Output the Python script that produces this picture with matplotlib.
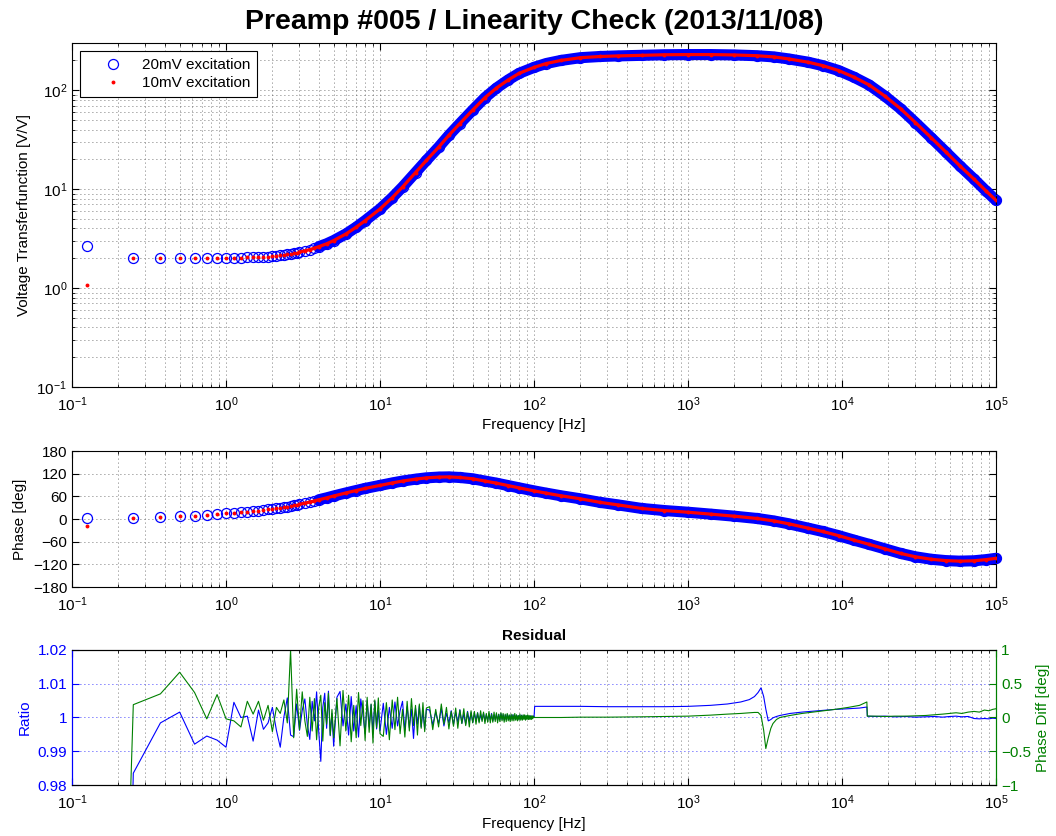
import numpy as np
import matplotlib.pyplot as plt
from matplotlib.ticker import LogLocator, FixedLocator, FuncFormatter, NullFormatter

plt.rcParams['font.family'] = ['Liberation Sans', 'DejaVu Sans']
plt.rcParams['font.size'] = 11
plt.rcParams['mathtext.default'] = 'regular'

# swept-sine transfer function
freq = [0.125, 0.25, 0.375, 0.5, 0.625, 0.75, 0.875, 1.0,
        1.125, 1.25, 1.375, 1.5, 1.625, 1.75, 1.875, 2.0,
        2.125, 2.25, 2.375, 2.5, 2.625, 2.75, 2.875, 3.0,
        3.25, 3.5, 3.75, 4.0, 4.5, 5.0, 6.0, 7.0, 8.0,
        10, 12, 14, 17, 20, 24, 28, 33, 40, 48, 57, 68, 80,
        100, 120, 150, 200, 270, 350, 500, 700, 1000, 1400, 2000, 2800,
        3600, 4500, 6000, 7500, 9500, 12000, 15000, 19000, 24000, 30000,
        38000, 47000, 58000, 72000, 86000, 100000]
mag_20mv = [2.67, 2.00, 2.00, 2.00, 2.00, 2.01, 2.01, 2.02,
            2.03, 2.03, 2.04, 2.05, 2.06, 2.07, 2.08, 2.10,
            2.12, 2.14, 2.16, 2.19, 2.21, 2.24, 2.27, 2.31,
            2.38, 2.45, 2.53, 2.62, 2.80, 3.02, 3.52, 4.12, 4.80,
            6.3, 8.2, 10.5, 14.7, 19.5, 26.5, 35.0, 46, 63, 84, 105, 127, 148,
            170, 186, 200, 213, 219, 222, 225, 228, 229, 229, 227, 223,
            217, 207, 192, 177, 158, 135, 113, 87, 65, 47,
            33, 23.9, 17.3, 12.6, 9.6, 7.7]
phase_20mv = [3.5, 4, 5.5, 7, 9, 11, 13, 15,
              16.5, 18, 19.5, 21, 22.5, 24, 25.5, 27,
              28.5, 30, 31.5, 33, 34.5, 36, 37.5, 39,
              42, 45, 48, 51, 56, 61, 69, 75.5, 81,
              89, 95.5, 100.5, 105.5, 109, 111, 111.5, 110, 106.5, 100.5, 95, 88.5, 82.5,
              74.5, 68.5, 61.5, 53.5, 44, 37.5, 28, 22.5, 18, 13, 7.5, 1.5,
              -5, -12.5, -24, -33, -44, -56, -67, -79, -91, -100,
              -106.5, -110, -111.5, -110.5, -107.5, -104]
# the 10 mV sweep sits on top of the 20 mV one except for the first bin
mag_10mv = [1.07] + mag_20mv[1:]
phase_10mv = [-18.6] + phase_20mv[1:]

# residual: ratio 10mV/20mV and phase difference
res_freq = [0.125, 0.25, 0.375, 0.5, 0.625, 0.75, 0.875, 1.0,
            1.125, 1.25, 1.375, 1.5, 1.625, 1.75, 1.875, 2.0,
            2.125, 2.25, 2.375, 2.5, 2.625, 2.75, 2.875, 3.0,
            3.125, 3.25, 3.375, 3.5, 3.625, 3.75, 3.875, 4.0,
            4.125, 4.25, 4.375, 4.5, 4.625, 4.75, 4.875, 5.0,
            5.25, 5.5, 5.75, 6.0, 6.25, 6.5, 6.75, 7.0, 7.25, 7.5,
            7.75, 8.0, 8.25, 8.5, 8.75, 9.0, 9.25, 9.5, 9.75, 10.0,
            10.5, 11.0, 11.5, 12.0, 12.5, 13.0, 13.5, 14.0, 14.5, 15.0,
            15.5, 16.0, 16.5, 17.0, 17.5, 18.0, 18.5, 19.0, 19.5, 20.0,
            21, 22, 23, 24, 25, 26, 27, 28, 29, 30,
            31, 32, 33, 34, 35, 36, 37, 38, 39, 40,
            41, 42, 43, 44, 45, 46, 47, 48, 49, 50,
            51, 52, 53, 54, 55, 56, 57, 58, 59, 60,
            61, 62, 63, 64, 65, 66, 67, 68, 69, 70,
            71, 72, 73, 74, 75, 76, 77, 78, 79, 80,
            81, 82, 83, 84, 85, 86, 87, 88, 89, 90,
            91, 92, 93, 94, 95, 96, 97, 98, 99, 100,
            101, 150, 200, 300, 500, 700, 1000, 1400, 1800, 2200,
            2500, 2700, 2850, 2980, 3100, 3200, 3320, 3450, 3560, 3750,
            3950, 4600, 5500, 7000, 9000, 11000, 13000, 14500, 14600, 16500,
            19000, 22000, 26000, 30000, 35000, 40000, 45000, 50000, 55000, 60000,
            66000, 72000, 78000, 84000, 90000, 95000, 100000]
res_ratio = [0.400, 0.9835, 0.9984, 1.0016, 0.9921, 0.9945, 0.9933, 0.9912,
             1.0045, 1.0000, 1.0004, 0.9930, 1.0022, 0.9965, 0.9984, 1.0030,
             0.9962, 0.9912, 1.0001, 1.0058, 0.9948, 0.9943, 1.0040, 0.9962,
             1.0021, 1.0055, 0.9978, 0.9935, 1.0048, 0.9990, 1.0076, 0.9958,
             0.9870, 1.0030, 1.0072, 0.9968, 1.0078, 0.9946, 1.0012, 0.9915,
             1.0060, 1.0077, 0.9975, 1.0040, 0.9948, 1.0062, 0.9960, 1.0035, 0.9942, 1.0055,
             1.0008, 0.9952, 1.0050, 0.9972, 1.0038, 0.9958, 1.0048, 0.9966, 1.0022, 0.9960,
             1.0042, 0.9950, 1.0030, 0.9968, 1.0046, 0.9975, 1.0020, 1.0048, 0.9962, 1.0032,
             0.9970, 1.0025, 0.9938, 1.0028, 0.9980, 1.0035, 0.9972, 1.0018, 0.9966, 1.0024,
             1.0022, 0.9978, 1.0016, 0.9982, 1.0026, 0.9975, 1.0012, 0.9984, 1.0020, 0.9979,
             1.0015, 0.9986, 1.0023, 0.9983, 1.0010, 0.9980, 1.0018, 0.9988, 1.0014, 0.9985,
             1.0012, 0.9990, 1.0014, 0.9988, 1.0009, 0.9992, 1.0013, 0.9989, 1.0008, 0.9991,
             1.0011, 0.9993, 1.0012, 0.9990, 1.0007, 0.9994, 1.0010, 0.9991, 1.0009, 0.9993,
             1.0011, 0.9995, 1.0008, 0.9992, 1.0007, 0.9994, 1.0009, 0.9995, 1.0006, 0.9993,
             1.0007, 0.9995, 1.0008, 0.9996, 1.0006, 0.9994, 1.0007, 0.9996, 1.0005, 0.9995,
             1.0006, 0.9997, 1.0007, 0.9996, 1.0005, 0.9997, 1.0006, 0.9996, 1.0004, 0.9997,
             1.0005, 0.9998, 1.0004, 0.9997, 1.0005, 0.9998, 1.0003, 0.9998, 1.0004, 1.0000,
             1.0033, 1.0033, 1.0033, 1.0032, 1.0032, 1.0032, 1.0033, 1.0036, 1.0040, 1.0046,
             1.0053, 1.0062, 1.0074, 1.0088, 1.0062, 1.0025, 0.9990, 0.9994, 0.9999, 1.0003,
             1.0006, 1.0012, 1.0016, 1.0020, 1.0024, 1.0026, 1.0028, 1.0031, 1.0004, 1.0003,
             1.0004, 1.0002, 1.0003, 1.0001, 1.0002, 1.0003, 1.0001, 1.0003, 1.0004, 1.0002,
             1.0003, 0.9997, 0.9996, 0.9997, 0.9996, 0.9998, 0.9997]
res_phase = [-22.0, 0.19, 0.35, 0.67, 0.37, -0.02, 0.34, -0.02,
             -0.05, -0.14, 0.24, 0.05, 0.24, -0.04, 0.18, -0.21,
             0.15, 0.06, 0.26, -0.08, 1.00, -0.30, 0.42, -0.18,
             0.38, -0.05, -0.28, 0.30, -0.20, 0.28, -0.33, 0.15,
             0.33, -0.35, 0.22, -0.10, 0.36, -0.26, 0.12, -0.30,
             0.28, -0.42, 0.40, -0.20, 0.33, -0.36, 0.18, -0.30, 0.37, -0.12,
             0.25, -0.34, 0.30, -0.22, 0.20, -0.38, 0.26, -0.15, 0.29, -0.24,
             -0.28, 0.22, -0.33, 0.26, -0.18, 0.30, -0.24, 0.12, -0.29, 0.24,
             -0.20, 0.28, -0.12, 0.18, -0.26, 0.20, -0.16, 0.22, -0.21, 0.14,
             0.16, -0.18, 0.12, -0.14, 0.20, -0.10, 0.15, -0.17, 0.09, -0.13,
             0.14, -0.16, 0.11, -0.09, 0.13, -0.12, 0.08, -0.14, 0.10, -0.08,
             0.09, -0.10, 0.07, -0.08, 0.10, -0.06, 0.08, -0.09, 0.06, -0.07,
             0.09, -0.08, 0.05, -0.07, 0.08, -0.06, 0.07, -0.08, 0.05, -0.06,
             0.07, -0.05, 0.06, -0.07, 0.05, -0.06, 0.06, -0.05, 0.04, -0.06,
             0.05, -0.05, 0.04, -0.05, 0.06, -0.04, 0.04, -0.05, 0.03, -0.04,
             0.05, -0.04, 0.03, -0.04, 0.04, -0.03, 0.04, -0.04, 0.03, -0.03,
             0.04, -0.03, 0.03, -0.03, 0.02, -0.03, 0.03, -0.02, 0.02, 0.00,
             0.00, 0.00, 0.005, 0.005, 0.01, 0.015, 0.02, 0.035, 0.05, 0.06,
             0.07, 0.075, 0.075, 0.03, -0.19, -0.46, -0.30, -0.16, -0.09, -0.03,
             0.00, 0.03, 0.06, 0.09, 0.12, 0.15, 0.18, 0.23, 0.02, 0.02,
             0.015, 0.02, 0.02, 0.025, 0.03, 0.04, 0.05, 0.06, 0.07, 0.06,
             0.08, 0.09, 0.08, 0.11, 0.10, 0.12, 0.13]

decades = [0.1, 1, 10, 100, 1000, 10000, 100000]

GREEN = (0, 0.5, 0)
GRID = dict(color='0.3', linestyle=(0, (1, 3.8)), linewidth=0.6)


def style_axis(ax, minor_y=False):
    ax.set_xscale('log')
    ax.set_xlim(0.1, 1e5)
    ax.xaxis.set_major_locator(FixedLocator(decades))
    ax.xaxis.set_minor_locator(LogLocator(base=10, subs=np.arange(2, 10), numticks=20))
    ax.xaxis.set_minor_formatter(NullFormatter())
    ax.tick_params(which='both', direction='in', top=True, right=True, labelsize=11)
    ax.tick_params(which='major', length=5)
    ax.tick_params(which='minor', length=2.5)
    ax.tick_params(axis='x', which='major', pad=6)
    ax.grid(True, which='major', **GRID)
    ax.grid(True, which='minor', axis='x', **GRID)
    if minor_y:
        ax.grid(True, which='minor', axis='y', **GRID)
    ax.set_axisbelow(True)


fig = plt.figure(figsize=(10.56, 8.36), dpi=100)
ax1 = fig.add_axes([0.0682, 0.5371, 0.875, 0.4115])
ax2 = fig.add_axes([0.0682, 0.2978, 0.875, 0.1627])
ax3 = fig.add_axes([0.0682, 0.0610, 0.875, 0.1615])

f = np.array(freq)
m20, m10 = np.array(mag_20mv), np.array(mag_10mv)
p20, p10 = np.array(phase_20mv), np.array(phase_10mv)
thick = f >= 4
thin = f >= 3

# magnitude
ax1.set_yscale('log')
style_axis(ax1, minor_y=True)
ax1.set_ylim(0.1, 300)
ax1.yaxis.set_major_locator(FixedLocator([0.1, 1, 10, 100]))
ax1.plot(f[thick], m20[thick], color='b', lw=8, solid_capstyle='round',
         solid_joinstyle='round', clip_on=False, zorder=2)
ax1.plot(f, m20, 'o', mfc='none', mec='b', ms=7.2, mew=0.9, clip_on=False,
         zorder=3, label='20mV excitation')
ax1.plot(f[thin], m10[thin], color='r', lw=2.3, solid_joinstyle='round', zorder=4)
ax1.plot(f, m10, 'o', mfc='r', mec='none', ms=2.8, zorder=5, label='10mV excitation')
ax1.set_xlabel('Frequency [Hz]', fontsize=11, labelpad=3)
ax1.set_ylabel('Voltage Transferfunction [V/V]', fontsize=11)
ax1.set_title('Preamp #005 / Linearity Check (2013/11/08)', fontsize=20.5,
              fontweight='bold', pad=10)
leg = ax1.legend(loc='upper left', fontsize=11, fancybox=False, framealpha=1,
                 edgecolor='k', borderaxespad=0.55, handlelength=3.4,
                 handletextpad=0.15, labelspacing=0.25, borderpad=0.45)
leg.get_frame().set_linewidth(0.8)

# phase
style_axis(ax2)
ax2.set_ylim(-180, 180)
ax2.yaxis.set_major_locator(FixedLocator([-180, -120, -60, 0, 60, 120, 180]))
ax2.plot(f[thick], p20[thick], color='b', lw=8, solid_capstyle='round',
         solid_joinstyle='round', clip_on=False, zorder=2)
ax2.plot(f, p20, 'o', mfc='none', mec='b', ms=7.2, mew=0.9, clip_on=False, zorder=3)
ax2.plot(f[thin], p10[thin], color='r', lw=2.3, solid_joinstyle='round', zorder=4)
ax2.plot(f, p10, 'o', mfc='r', mec='none', ms=2.8, zorder=5)
ax2.set_ylabel('Phase [deg]', fontsize=11)

# residual
fmt = FuncFormatter(lambda v, p: ('%g' % v).replace('-', '\u2212'))
style_axis(ax3)
ax3.grid(False, which='major', axis='y')
ax3.grid(True, which='major', axis='y', color='b', linestyle=(0, (1, 3.8)), linewidth=0.6)
ax3.tick_params(right=False)
ax3.set_ylim(0.98, 1.02)
ax3.yaxis.set_major_locator(FixedLocator([0.98, 0.99, 1.0, 1.01, 1.02]))
ax3.yaxis.set_major_formatter(fmt)
ax3.tick_params(axis='y', colors='b')
ax3.plot(res_freq, res_ratio, color='b', lw=0.8)
ax3.set_ylabel('Ratio', color='b', fontsize=11)
ax3.set_xlabel('Frequency [Hz]', fontsize=11, labelpad=4)
ax3.set_title('Residual', fontsize=11, fontweight='bold', pad=7)

ax4 = ax3.twinx()
ax4.set_ylim(-1, 1)
ax4.yaxis.set_major_locator(FixedLocator([-1, -0.5, 0, 0.5, 1]))
ax4.yaxis.set_major_formatter(fmt)
ax4.tick_params(axis='y', which='both', direction='in', colors=GREEN, length=5, labelsize=11)
ax4.plot(res_freq, res_phase, color=GREEN, lw=0.8)
ax4.set_ylabel('Phase Diff [deg]', color=GREEN, fontsize=11)
for a in (ax3, ax4):
    a.spines['left'].set_color('b')
    a.spines['right'].set_color(GREEN)

fig.savefig('out.png', dpi=100)
